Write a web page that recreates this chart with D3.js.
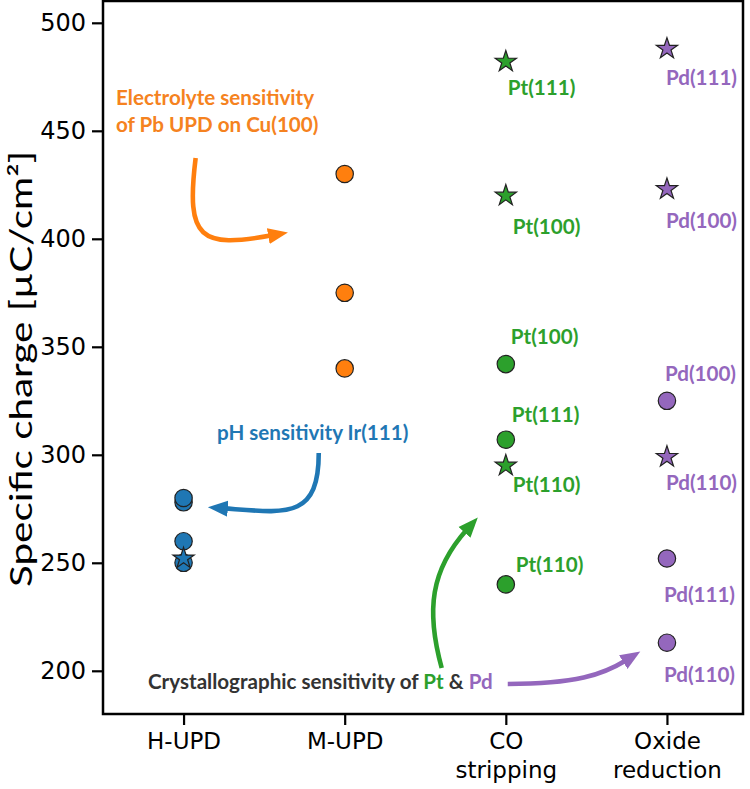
<!DOCTYPE html>
<html>
<head>
<meta charset="utf-8">
<script src="https://cdn.jsdelivr.net/npm/d3@7"></script>
<style>
  body { margin: 0; background: #fff; }
  svg { display: block; }
</style>
</head>
<body>
<div class="chart"></div>
<script>
// categories on the x axis (index positions 0..3)
const categories = ["H-UPD", "M-UPD", "CO stripping", "Oxide reduction"];
const categoryLines = [["H-UPD"], ["M-UPD"], ["CO", "stripping"], ["Oxide", "reduction"]];

// values (µC/cm²)
const hupdCircles = [278, 280, 260, 250];
const hupdStars = [252];
const mupdCircles = [430, 375, 340];
const coCircles = [342, 307, 240];
const coStars = [482, 420, 295];
const oxCircles = [325, 252, 213];
const oxStars = [488, 423, 299];

// facet labels for the points
const coCircleLabels = ["Pt(100)", "Pt(111)", "Pt(110)"];
const coStarLabels = ["Pt(111)", "Pt(100)", "Pt(110)"];
const oxCircleLabels = ["Pd(100)", "Pd(111)", "Pd(110)"];
const oxStarLabels = ["Pd(111)", "Pd(100)", "Pd(110)"];

const yTicks = [200, 250, 300, 350, 400, 450, 500];

const W = 750, H = 789;
const mLeft = 103, mRight = 743, mTop = 1, mBottom = 714;

const blue = "#1f77b4", orange = "#ff7f0e", green = "#2ca02c", purple = "#9467bd";
const textOrange = "#f58220", textGreen = "#2ca02c", textPurple = "#9467bd", textBlue = "#1f77b4";
const annFont = "Lato, 'DejaVu Sans', sans-serif";
const annSize = 20.6;

const svg = d3.select(".chart").append("svg")
    .attr("width", W)
    .attr("height", H)
    .attr("viewBox", `0 0 ${W} ${H}`);

const x = d3.scaleLinear().domain([-0.5, 3.472]).range([mLeft, mRight]);
const y = d3.scaleLinear().domain([180, 510.1]).range([mBottom, mTop]);

// axes
const yAxis = d3.axisLeft(y).tickValues(yTicks).tickSize(11).tickPadding(6);
const gy = svg.append("g").attr("transform", `translate(${mLeft},0)`).call(yAxis);
gy.select(".domain").remove();
gy.selectAll(".tick line").attr("stroke", "#000").attr("stroke-width", 2.2);
gy.selectAll(".tick text")
    .attr("font-family", "'DejaVu Sans', sans-serif")
    .attr("font-size", 24)
    .attr("fill", "#000");

const xAxis = d3.axisBottom(x).tickValues(d3.range(categories.length)).tickSize(11).tickFormat("");
const gx = svg.append("g").attr("transform", `translate(0,${mBottom})`).call(xAxis);
gx.select(".domain").remove();
gx.selectAll(".tick line").attr("stroke", "#000").attr("stroke-width", 2.2);
gx.selectAll(".tick").each(function(d) {
    const t = d3.select(this).append("text")
        .attr("text-anchor", "middle")
        .attr("font-family", "'DejaVu Sans', sans-serif")
        .attr("font-size", 23)
        .attr("fill", "#000");
    categoryLines[d].forEach((line, i) => {
        t.append("tspan").attr("x", 0).attr("y", 35 + i * 29).text(line);
    });
});

// frame
svg.append("rect")
    .attr("x", mLeft).attr("y", mTop)
    .attr("width", mRight - mLeft).attr("height", mBottom - mTop)
    .attr("fill", "none").attr("stroke", "#000").attr("stroke-width", 2.5);

// y title
svg.append("text")
    .attr("transform", `translate(32,369) rotate(-90)`)
    .attr("text-anchor", "middle")
    .attr("font-family", annFont)
    .attr("font-size", 30)
    .attr("textLength", 436)
    .attr("lengthAdjust", "spacingAndGlyphs")
    .attr("fill", "#000")
    .text("Specific charge [µC/cm²]");

// arrows (defined in data units: [category index, value])
const defs = svg.append("defs");
function marker(id, color) {
    defs.append("marker")
        .attr("id", id)
        .attr("markerUnits", "userSpaceOnUse")
        .attr("viewBox", "0 -9 21 18")
        .attr("markerWidth", 21).attr("markerHeight", 18)
        .attr("refX", 4).attr("refY", 0)
        .attr("orient", "auto")
        .append("path").attr("d", "M0,-8L20,0L0,8Z").attr("fill", color);
}
const arrows = [
    { color: orange, pts: [[0.075, 437.4], [0.012, 399.4], [0.106, 395.7], [0.55, 401.6]] },
    { color: blue, pts: [[0.839, 300.8], [0.839, 269.8], [0.634, 273.1], [0.25, 275.2]] },
    { color: green, pts: [[1.602, 201.3], [1.503, 228.1], [1.534, 246.7], [1.76, 265.5]] },
    { color: purple, pts: [[2.012, 193.9], [2.435, 193.9], [2.6, 198.1], [2.75, 205]] }
];
arrows.forEach((a, i) => {
    marker("arr" + i, a.color);
    const p = a.pts.map(([cx, cy]) => [x(cx), y(cy)]);
    const path = d3.path();
    path.moveTo(p[0][0], p[0][1]);
    path.bezierCurveTo(p[1][0], p[1][1], p[2][0], p[2][1], p[3][0], p[3][1]);
    svg.append("path")
        .attr("d", path.toString())
        .attr("fill", "none")
        .attr("stroke", a.color)
        .attr("stroke-width", 4.6)
        .attr("marker-end", `url(#arr${i})`);
});

// points
const starSym = d3.symbol().type(d3.symbolStar).size(140);
function circles(vals, xi, color) {
    svg.append("g").selectAll("circle")
        .data(vals)
        .join("circle")
            .attr("cx", x(xi))
            .attr("cy", d => y(d))
            .attr("r", 8.7)
            .attr("fill", color)
            .attr("stroke", "#222")
            .attr("stroke-width", 1.2);
}
function stars(vals, xi, color) {
    svg.append("g").selectAll("path")
        .data(vals)
        .join("path")
            .attr("transform", d => `translate(${x(xi)},${y(d)})`)
            .attr("d", starSym)
            .attr("fill", color)
            .attr("stroke", "#222")
            .attr("stroke-width", 1.2);
}
circles(hupdCircles, 0, blue);
stars(hupdStars, 0, blue);
circles(mupdCircles, 1, orange);
circles(coCircles, 2, green);
stars(coStars, 2, green);
circles(oxCircles, 3, purple);
stars(oxStars, 3, purple);

// point labels (pixel offsets from the marker)
function labels(vals, names, xi, offsets, color) {
    svg.append("g").selectAll("text")
        .data(vals)
        .join("text")
            .attr("x", (d, i) => x(xi) + offsets[i][0])
            .attr("y", (d, i) => y(d) + offsets[i][1])
            .attr("dy", "0.35em")
            .attr("font-family", annFont)
            .attr("font-weight", "bold")
            .attr("font-size", annSize)
            .attr("fill", color)
            .text((d, i) => names[i]);
}
labels(coStars, coStarLabels, 2, [[2, 26], [7, 31], [7, 19]], textGreen);
labels(coCircles, coCircleLabels, 2, [[5, -27], [6, -25], [10, -20]], textGreen);
labels(oxStars, oxStarLabels, 3, [[-1, 29], [-1, 32], [-1, 26]], textPurple);
labels(oxCircles, oxCircleLabels, 3, [[-2, -27], [-3, 36], [-3, 32]], textPurple);

// annotation texts
function note(px, py, parts) {
    const t = svg.append("text")
        .attr("x", px).attr("y", py)
        .attr("dy", "0.35em")
        .attr("font-family", annFont)
        .attr("font-weight", "bold")
        .attr("font-size", annSize);
    parts.forEach(([s, c]) => t.append("tspan").attr("fill", c).text(s));
}
note(116, 98, [["Electrolyte sensitivity", textOrange]]);
note(116, 125, [["of Pb UPD on Cu(100)", textOrange]]);
note(217, 433, [["pH sensitivity Ir(111)", textBlue]]);
note(148, 682, [["Crystallographic sensitivity of ", "#333"], ["Pt", textGreen], [" & ", "#333"], ["Pd", textPurple]]);
</script>
</body>
</html>
